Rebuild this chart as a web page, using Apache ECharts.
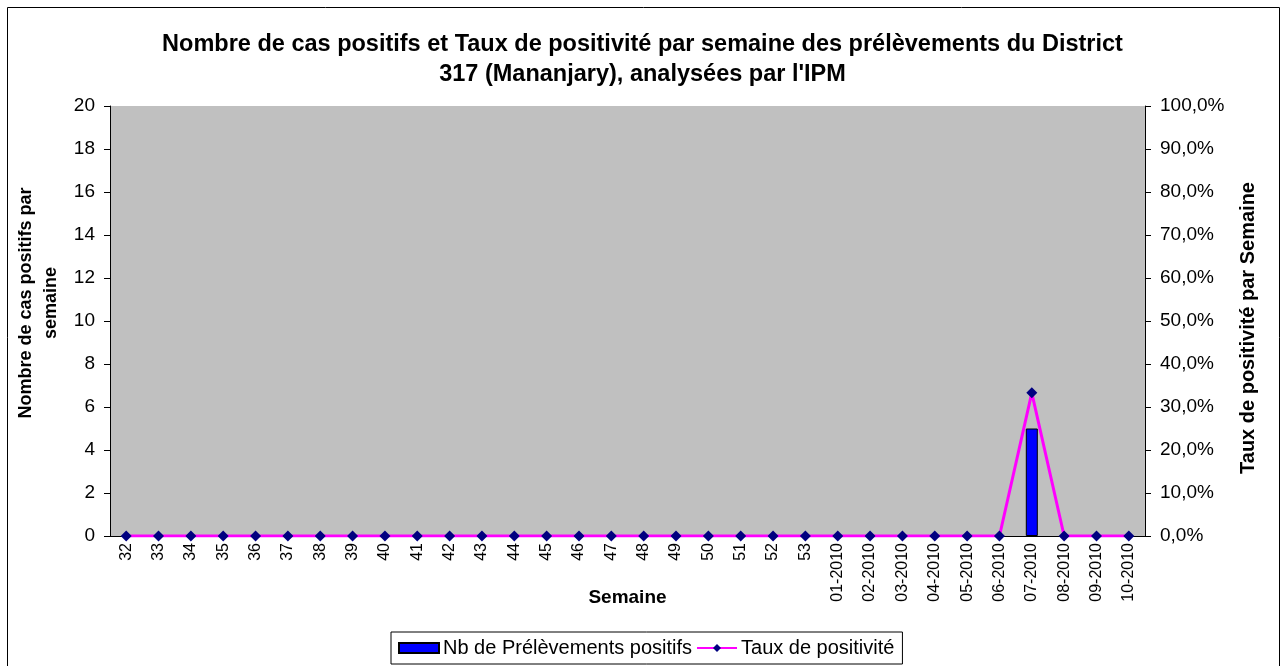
<!DOCTYPE html>
<html>
<head>
<meta charset="utf-8">
<script src="https://cdn.jsdelivr.net/npm/echarts@6/dist/echarts.min.js"></script>
<style>
  html, body { margin: 0; padding: 0; background: #fff; }
  #chart { width: 1285px; height: 666px; }
</style>
</head>
<body>
<div id="chart"></div>
<script>
// semaines
const weeks = ['32', '33', '34', '35', '36', '37', '38', '39', '40', '41', '42', '43', '44', '45', '46', '47',
    '48', '49', '50', '51', '52', '53', '01-2010', '02-2010', '03-2010', '04-2010', '05-2010', '06-2010',
    '07-2010', '08-2010', '09-2010', '10-2010'];
// Nb de prélèvements positifs
const positifs = [null, null, null, null, null, null, null, null, null, null, null, null, null, null, null, null,
    null, null, null, null, null, null, null, null, null, null, null, null, 5, null, null, null];
// Taux de positivité
const taux = [0, 0, 0, 0, 0, 0, 0, 0, 0, 0, 0, 0, 0, 0, 0, 0,
    0, 0, 0, 0, 0, 0, 0, 0, 0, 0, 0, 0, 0.333, 0, 0, 0];

const font = 'Liberation Sans, Arial, sans-serif';
const chart = echarts.init(document.getElementById('chart'));

const option = {
    animation: false,
    textStyle: { fontFamily: font },
    title: {
        text: "Nombre de cas positifs et Taux de positivité par semaine des prélèvements du District\n317 (Mananjary), analysées par l'IPM",
        left: 'center',
        top: 25,
        textStyle: { fontSize: 23.5, fontWeight: 'bold', color: '#000', lineHeight: 30, fontFamily: font }
    },
    graphic: [{
        type: 'rect',
        shape: { x: 7.5, y: 7.5, width: 1272, height: 662 },
        style: { fill: 'none', stroke: '#000', lineWidth: 1 },
        silent: true
    }],
    legend: {
        bottom: 2,
        left: 391,
        itemGap: 4,
        padding: [6, 8, 6, 7],
        borderColor: '#000',
        borderWidth: 1,
        itemWidth: 40,
        itemHeight: 10,
        textStyle: { fontSize: 20, color: '#000', fontFamily: font, padding: [0, 0, 0, -1] },
        data: [
            { name: 'Nb de Prélèvements positifs', icon: 'rect' },
            { name: 'Taux de positivité' }
        ]
    },
    grid: {
        left: 110,
        right: 140,
        top: 106,
        bottom: 130,
        show: true,
        backgroundColor: '#C0C0C0',
        borderWidth: 0
    },
    xAxis: {
        type: 'category',
        data: weeks,
        name: 'Semaine',
        nameLocation: 'middle',
        nameGap: 52,
        nameMoveOverlap: false,
        nameTextStyle: { fontSize: 19, fontWeight: 'bold', color: '#000', verticalAlign: 'top' },
        axisLine: { lineStyle: { color: '#000' } },
        axisTick: { length: 5, lineStyle: { color: '#000' } },
        axisLabel: { rotate: 90, fontSize: 16, color: '#000', interval: 0, margin: 7 }
    },
    yAxis: [
        {
            type: 'value',
            min: 0,
            max: 20,
            interval: 2,
            name: 'Nombre de cas positifs par\nsemaine',
            nameLocation: 'middle',
            nameGap: 46,
            nameMoveOverlap: false,
            nameTextStyle: { fontSize: 18, fontWeight: 'bold', color: '#000', lineHeight: 25, padding: [0, 0, 0, 36] },
            axisLine: { show: true, lineStyle: { color: '#000' } },
            axisTick: { show: true, length: 6, lineStyle: { color: '#000' } },
            axisLabel: { fontSize: 19, color: '#000', margin: 15 },
            splitLine: { show: false }
        },
        {
            type: 'value',
            min: 0,
            max: 1,
            interval: 0.1,
            name: 'Taux de positivité par Semaine',
            nameLocation: 'middle',
            nameGap: 93,
            nameRotate: 90,
            nameMoveOverlap: false,
            nameTextStyle: { fontSize: 20, fontWeight: 'bold', color: '#000', padding: [0, 14, 0, 0] },
            axisLine: { show: true, lineStyle: { color: '#000' } },
            axisTick: { show: true, length: 6, lineStyle: { color: '#000' } },
            axisLabel: {
                fontSize: 19, color: '#000', margin: 15,
                formatter: function(v) { return (v * 100).toFixed(1).replace('.', ',') + '%'; }
            },
            splitLine: { show: false }
        }
    ],
    series: [
        {
            name: 'Nb de Prélèvements positifs',
            type: 'bar',
            yAxisIndex: 0,
            barWidth: 12,
            itemStyle: { color: '#0000FF', borderColor: '#000', borderWidth: 1 },
            data: positifs
        },
        {
            name: 'Taux de positivité',
            type: 'line',
            yAxisIndex: 1,
            symbol: 'diamond',
            symbolSize: 11,
            itemStyle: { color: '#000080' },
            lineStyle: { color: '#FF00FF', width: 3 },
            data: taux
        }
    ]
};

chart.setOption(option);
</script>
</body>
</html>
